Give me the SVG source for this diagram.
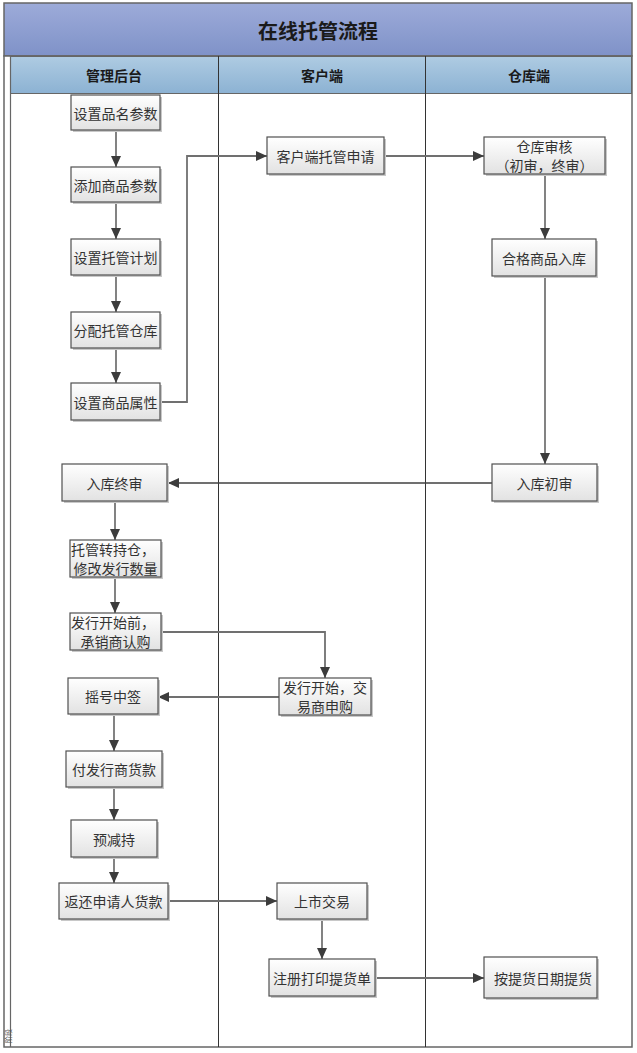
<svg xmlns="http://www.w3.org/2000/svg" width="637" height="1053" viewBox="0 0 637 1053">
<defs>
<linearGradient id="gTitle" x1="0" y1="0" x2="0" y2="1"><stop offset="0" stop-color="#9dabd9"/><stop offset="1" stop-color="#7f92c8"/></linearGradient>
<linearGradient id="gHead" x1="0" y1="0" x2="0" y2="1"><stop offset="0" stop-color="#aecbe2"/><stop offset="1" stop-color="#8cb2d3"/></linearGradient>
<linearGradient id="gBox" x1="0" y1="0" x2="0" y2="1"><stop offset="0" stop-color="#ffffff"/><stop offset="1" stop-color="#e2e2e2"/></linearGradient>
<marker id="arr" markerUnits="userSpaceOnUse" markerWidth="12" markerHeight="10" refX="11" refY="5" orient="auto"><path d="M0,0 L11,5 L0,10 Z" fill="#3c3c3c"/></marker>
<style>
.box{fill:url(#gBox);stroke:#505050;stroke-width:1.2}
.sh{fill:#c8c8c8}
.t{font-family:"Noto Sans CJK SC","Liberation Sans",sans-serif;font-size:14px;fill:#333;text-anchor:middle;dominant-baseline:central}
.h{font-family:"Noto Sans CJK SC","Liberation Sans",sans-serif;font-size:14px;font-weight:bold;fill:#1a1a1a;text-anchor:middle;dominant-baseline:central}
.c1{fill:none;stroke:#404040;stroke-width:1.3}
.c2{fill:none;stroke:#707070;stroke-width:1.8}
.lane{stroke:#333;stroke-width:1;fill:none}
</style>
</defs>
<g id="frame">
<rect x="4" y="3" width="628" height="53" fill="url(#gTitle)" stroke="#666" stroke-width="1.5"/>
<text x="318" y="30" class="h" style="font-size:20px">在线托管流程</text>
<rect x="4" y="56" width="628" height="991" fill="#fff" stroke="#666" stroke-width="1.5"/>
<rect x="10.5" y="56.5" width="621" height="37" fill="url(#gHead)" stroke="#666" stroke-width="1"/>
<line x1="10.5" y1="56" x2="10.5" y2="1047" stroke="#666" stroke-width="1.2"/>
<line x1="218.5" y1="56" x2="218.5" y2="1047" class="lane"/>
<line x1="425.5" y1="56" x2="425.5" y2="1047" class="lane"/>
<text x="114" y="75" class="h">管理后台</text>
<text x="322" y="75" class="h">客户端</text>
<text x="529" y="75" class="h">仓库端</text>
<text x="0" y="0" transform="translate(7.5,1036) rotate(-90)" style="font-family:'Noto Sans CJK SC',sans-serif;font-size:7px;fill:#555;text-anchor:middle;dominant-baseline:central">阶段</text>
</g>
<g id="connectors">
<line x1="116" y1="131" x2="116" y2="167" class="c1" marker-end="url(#arr)"/>
<line x1="116" y1="203" x2="116" y2="239" class="c1" marker-end="url(#arr)"/>
<line x1="116" y1="276" x2="116" y2="312" class="c1" marker-end="url(#arr)"/>
<line x1="116" y1="348" x2="116" y2="383" class="c1" marker-end="url(#arr)"/>
<polyline points="160,402 187,402 187,156 267,156" class="c2" marker-end="url(#arr)"/>
<line x1="384" y1="156" x2="484" y2="156" class="c2" marker-end="url(#arr)"/>
<line x1="545" y1="174" x2="545" y2="239" class="c1" marker-end="url(#arr)"/>
<line x1="545" y1="276" x2="545" y2="464" class="c1" marker-end="url(#arr)"/>
<line x1="492" y1="483" x2="168" y2="483" class="c1" marker-end="url(#arr)"/>
<line x1="115" y1="501" x2="115" y2="540" class="c1" marker-end="url(#arr)"/>
<line x1="115" y1="577" x2="115" y2="613" class="c1" marker-end="url(#arr)"/>
<polyline points="161,632 325,632 325,678" class="c2" marker-end="url(#arr)"/>
<line x1="279" y1="697" x2="158" y2="697" class="c2" marker-end="url(#arr)"/>
<line x1="114" y1="714" x2="114" y2="751" class="c1" marker-end="url(#arr)"/>
<line x1="114" y1="787" x2="114" y2="820" class="c1" marker-end="url(#arr)"/>
<line x1="114" y1="857" x2="114" y2="883" class="c1" marker-end="url(#arr)"/>
<line x1="168" y1="901" x2="277" y2="901" class="c2" marker-end="url(#arr)"/>
<line x1="322" y1="919" x2="322" y2="959" class="c1" marker-end="url(#arr)"/>
<line x1="375" y1="978" x2="484" y2="978" class="c2" marker-end="url(#arr)"/>
</g>
<g id="n1"><rect x="73" y="97" width="89" height="35" class="sh"/><rect x="71" y="95" width="89" height="35" class="box"/><text x="115.5" y="112.5" class="t">设置品名参数</text></g>
<g id="n2"><rect x="73" y="169" width="89" height="35" class="sh"/><rect x="71" y="167" width="89" height="35" class="box"/><text x="115.5" y="184.5" class="t">添加商品参数</text></g>
<g id="n3"><rect x="73" y="241" width="89" height="36" class="sh"/><rect x="71" y="239" width="89" height="36" class="box"/><text x="115.5" y="257" class="t">设置托管计划</text></g>
<g id="n4"><rect x="73" y="314" width="89" height="36" class="sh"/><rect x="71" y="312" width="89" height="36" class="box"/><text x="115.5" y="330" class="t">分配托管仓库</text></g>
<g id="n5"><rect x="73" y="385" width="89" height="37" class="sh"/><rect x="71" y="383" width="89" height="37" class="box"/><text x="115.5" y="401.5" class="t">设置商品属性</text></g>
<g id="n6"><rect x="269" y="139" width="117" height="37" class="sh"/><rect x="267" y="137" width="117" height="37" class="box"/><text x="325.5" y="155.5" class="t">客户端托管申请</text></g>
<g id="n7"><rect x="486" y="139" width="121" height="37" class="sh"/><rect x="484" y="137" width="121" height="37" class="box"/><text x="544.5" y="145.5" class="t">仓库审核</text><text x="544.5" y="164.5" class="t">（初审，终审）</text></g>
<g id="n8"><rect x="494" y="241" width="104" height="37" class="sh"/><rect x="492" y="239" width="104" height="37" class="box"/><text x="544" y="257.5" class="t">合格商品入库</text></g>
<g id="n9"><rect x="494" y="466" width="105" height="37" class="sh"/><rect x="492" y="464" width="105" height="37" class="box"/><text x="544.5" y="482.5" class="t">入库初审</text></g>
<g id="n10"><rect x="64" y="466" width="105" height="37" class="sh"/><rect x="62" y="464" width="105" height="37" class="box"/><text x="114.5" y="482.5" class="t">入库终审</text></g>
<g id="n11"><rect x="72" y="542" width="91" height="37" class="sh"/><rect x="70" y="540" width="91" height="37" class="box"/><text x="113" y="549" class="t">托管转持仓，</text><text x="115.5" y="567.5" class="t">修改发行数量</text></g>
<g id="n12"><rect x="72" y="615" width="91" height="37" class="sh"/><rect x="70" y="613" width="91" height="37" class="box"/><text x="113" y="622" class="t">发行开始前，</text><text x="115.5" y="640.5" class="t">承销商认购</text></g>
<g id="n13"><rect x="70" y="680" width="90" height="36" class="sh"/><rect x="68" y="678" width="90" height="36" class="box"/><text x="113" y="696" class="t">摇号中签</text></g>
<g id="n14"><rect x="281" y="680" width="92" height="37" class="sh"/><rect x="279" y="678" width="92" height="37" class="box"/><text x="325" y="687" class="t">发行开始，交</text><text x="325" y="705.5" class="t">易商申购</text></g>
<g id="n15"><rect x="68" y="753" width="96" height="36" class="sh"/><rect x="66" y="751" width="96" height="36" class="box"/><text x="114" y="769" class="t">付发行商货款</text></g>
<g id="n16"><rect x="73" y="822" width="86" height="37" class="sh"/><rect x="71" y="820" width="86" height="37" class="box"/><text x="114" y="838.5" class="t">预减持</text></g>
<g id="n17"><rect x="61" y="885" width="109" height="36" class="sh"/><rect x="59" y="883" width="109" height="36" class="box"/><text x="113.5" y="901" class="t">返还申请人货款</text></g>
<g id="n18"><rect x="279" y="885" width="90" height="36" class="sh"/><rect x="277" y="883" width="90" height="36" class="box"/><text x="322" y="901" class="t">上市交易</text></g>
<g id="n19"><rect x="271" y="961" width="106" height="37" class="sh"/><rect x="269" y="959" width="106" height="37" class="box"/><text x="322" y="977.5" class="t">注册打印提货单</text></g>
<g id="n20"><rect x="486" y="959" width="113" height="41" class="sh"/><rect x="484" y="957" width="113" height="41" class="box"/><text x="543" y="977.5" class="t">按提货日期提货</text></g>
</svg>
